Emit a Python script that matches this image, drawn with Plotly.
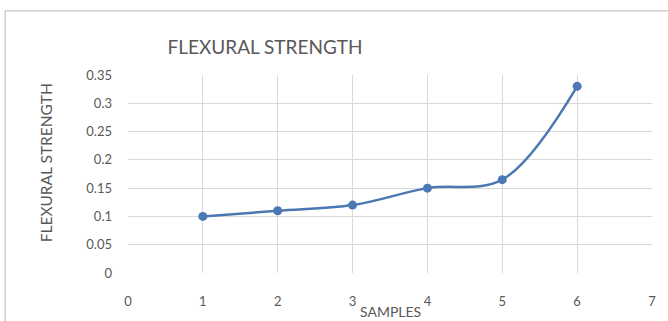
import plotly.graph_objects as go

samples = [1, 2, 3, 4, 5, 6]
flexural_strength = [0.10, 0.11, 0.12, 0.15, 0.165, 0.33]
x_ticks = [0, 1, 2, 3, 4, 5, 6, 7]
y_ticks = [0, 0.05, 0.1, 0.15, 0.2, 0.25, 0.3, 0.35]

W, H = 668, 321
L, R, T, B = 128, 15, 75, 46
pw, ph = W - L - R, H - T - B

def px_x(x):
    return (x - L) / pw

def px_y(y):
    return (H - B - y) / ph

blue = "#4a78b2"
grey_txt = "#595959"
font_family = "Lato, 'Open Sans', sans-serif"

fig = go.Figure()
fig.add_trace(go.Scatter(
    x=samples, y=flexural_strength,
    mode="lines+markers",
    line=dict(color=blue, width=2.5, shape="spline", smoothing=1.0),
    marker=dict(color=blue, size=9),
    showlegend=False,
))

fig.update_layout(
    width=W, height=H,
    margin=dict(l=L, r=R, t=T, b=B),
    paper_bgcolor="white", plot_bgcolor="white",
    font=dict(family=font_family, color=grey_txt, size=13),
    title=dict(text="FLEXURAL STRENGTH", x=265 / W, xanchor="center",
               y=1 - 47 / H, yanchor="middle", xref="container", yref="container",
               font=dict(size=19, color=grey_txt, family=font_family)),
    xaxis=dict(range=[0, 7], tickvals=x_ticks, showgrid=True, gridcolor="#d9d9d9",
               gridwidth=1, zeroline=False, showline=False, ticks="",
               ticklabelstandoff=19, tickfont=dict(size=13, color=grey_txt)),
    yaxis=dict(range=[0, 0.35], tickvals=y_ticks, showgrid=True, gridcolor="#d9d9d9",
               gridwidth=1, zeroline=False, showline=False, ticks="",
               ticklabelstandoff=15, tickfont=dict(size=13, color=grey_txt)),
    annotations=[
        dict(text="SAMPLES", x=px_x(391), y=px_y(314), xref="paper", yref="paper",
             showarrow=False, xanchor="center", yanchor="middle",
             font=dict(size=14, color=grey_txt)),
        dict(text="FLEXURAL STRENGTH", x=px_x(46), y=px_y(164), xref="paper", yref="paper",
             showarrow=False, xanchor="center", yanchor="middle", textangle=-90,
             font=dict(size=15.5, color=grey_txt)),
    ],
    shapes=[
        dict(type="rect", xref="paper", yref="paper",
             x0=px_x(5), x1=px_x(W + 20), y0=px_y(H + 20), y1=px_y(10),
             line=dict(color="#d0d0d0", width=1.5), fillcolor="rgba(0,0,0,0)",
             layer="below"),
    ],
)

fig.write_html("out.html")
